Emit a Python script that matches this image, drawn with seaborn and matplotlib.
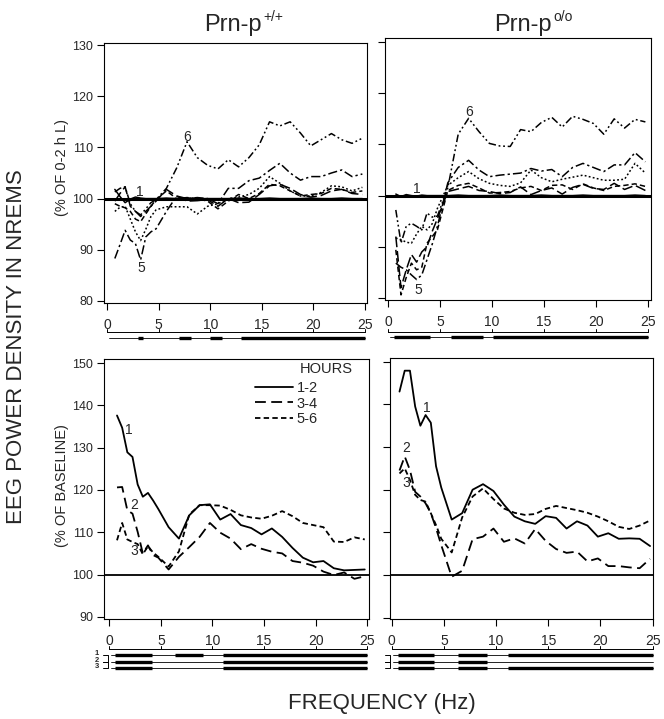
import numpy as np
import pandas as pd
import matplotlib
matplotlib.use('Agg')
import matplotlib.pyplot as plt
import seaborn as sns

# frequency bins (Hz), same for all panels
freq = [0.75, 1.25, 1.75, 2.25, 2.75, 3.25, 3.75, 4.25, 4.75,
        5.75, 6.75, 7.75, 8.75, 9.75, 10.75, 11.75, 12.75, 13.75, 14.75, 15.75,
        16.75, 17.75, 18.75, 19.75, 20.75, 21.75, 22.75, 23.75, 24.75]
freq_ticks = [0, 5, 10, 15, 20, 25]

# top row: hours 1..6 as % of the 0-2 h light value
wt_h1 = [101.8, 100.4, 99.2, 99.9, 100.3, 100.1, 100.0, 100.0, 100.0,
         100.1, 100.0, 100.1, 100.0, 100.0, 100.0, 100.0, 100.1, 100.0, 100.0, 100.1,
         100.0, 100.0, 100.0, 100.1, 100.0, 100.0, 100.1, 100.0, 100.0]
wt_h2 = [99.5, 101.0, 102.3, 98.5, 97.5, 96.5, 97.5, 98.5, 99.5,
         101.8, 100.5, 99.5, 99.6, 99.8, 98.5, 100.0, 99.2, 99.3, 100.8, 102.5,
         102.8, 102.0, 100.8, 100.3, 100.6, 101.5, 101.8, 101.0, 100.8]
wt_h3 = [99.0, 98.5, 98.2, 97.5, 96.0, 95.5, 97.0, 98.5, 99.8,
         101.5, 100.0, 100.2, 100.0, 99.5, 98.0, 99.5, 100.8, 100.0, 101.0, 102.8,
         102.5, 101.5, 100.5, 100.8, 101.0, 102.0, 101.8, 101.2, 101.5]
wt_h4 = [97.5, 98.3, 98.5, 96.0, 93.5, 91.8, 94.0, 96.5, 97.8,
         98.4, 98.4, 98.4, 97.0, 98.5, 99.0, 100.0, 100.3, 100.8, 102.0, 104.3,
         103.0, 101.5, 100.5, 100.5, 101.2, 102.5, 102.3, 101.5, 102.2]
wt_h5 = [88.3, 91.0, 93.8, 91.9, 91.2, 88.0, 92.5, 93.5, 94.1,
         97.5, 100.5, 100.0, 100.2, 100.0, 99.0, 102.0, 102.0, 103.5, 104.0, 105.5,
         106.9, 105.0, 103.6, 104.3, 104.3, 105.0, 105.6, 104.3, 104.8]
wt_h6 = [101.3, 102.0, 102.3, 99.0, 97.5, 96.8, 98.0, 99.2, 99.8,
         102.0, 106.0, 111.1, 108.0, 106.5, 105.8, 107.6, 106.2, 108.0, 110.5, 115.0,
         114.2, 115.0, 112.8, 110.3, 111.5, 112.7, 111.5, 110.8, 111.8]

ko_h1 = [100.3, 99.8, 100.2, 100.0, 99.9, 100.1, 100.0, 100.0, 100.0,
         100.0, 100.1, 100.0, 100.0, 100.0, 100.1, 100.0, 100.0, 100.0, 100.1, 100.0,
         100.0, 100.0, 100.1, 100.0, 100.0, 100.0, 100.0, 100.1, 100.0]
ko_h2 = [92.0, 82.0, 85.5, 88.5, 87.0, 89.0, 90.0, 93.0, 95.5,
         100.8, 101.3, 101.8, 101.0, 100.8, 100.4, 100.6, 101.7, 100.2, 101.0, 101.5,
         100.3, 101.6, 102.2, 101.4, 101.2, 102.4, 101.2, 102.0, 101.0]
ko_h3 = [89.4, 80.6, 84.0, 86.8, 85.5, 86.0, 90.7, 92.0, 93.3,
         101.0, 102.0, 102.4, 101.5, 100.5, 100.6, 100.8, 101.5, 101.8, 101.0, 102.0,
         102.1, 101.2, 102.3, 101.5, 101.0, 101.8, 102.0, 102.3, 101.8]
ko_h4 = [91.7, 91.4, 90.9, 90.7, 92.5, 94.0, 93.3, 94.5, 97.5,
         102.0, 103.5, 104.7, 103.3, 102.4, 102.0, 101.8, 102.5, 105.0, 103.5, 102.7,
         103.2, 103.6, 104.0, 103.5, 103.0, 103.0, 103.2, 106.3, 104.4]
ko_h5 = [86.8, 86.0, 85.5, 84.5, 83.6, 84.5, 87.5, 90.5, 94.0,
         102.5, 105.5, 106.9, 105.0, 103.7, 104.0, 104.2, 104.4, 105.3, 104.8, 105.1,
         103.7, 105.5, 106.3, 105.5, 104.7, 106.0, 106.0, 108.4, 106.6]
ko_h6 = [97.2, 90.7, 94.0, 94.6, 94.0, 93.3, 96.6, 95.8, 96.0,
         101.5, 112.0, 115.1, 112.5, 110.2, 109.7, 109.6, 112.9, 112.5, 114.3, 115.3,
         113.4, 115.5, 114.9, 114.1, 112.0, 115.0, 113.2, 114.9, 114.4]

# bottom row: 2-h intervals as % of baseline
hour_labels = ['1-2', '3-4', '5-6']
wt_12 = [137.6, 134.7, 128.9, 127.8, 121.3, 118.4, 119.3, 117.5, 115.5,
         111.2, 108.5, 114.0, 116.4, 116.6, 113.0, 114.3, 111.7, 111.0, 109.5, 110.9,
         108.9, 106.3, 104.0, 102.9, 103.2, 101.5, 101.0, 101.1, 101.2]
wt_34 = [120.6, 120.7, 115.2, 114.4, 110.1, 105.0, 106.9, 104.6, 104.0,
         101.2, 104.2, 106.5, 108.9, 112.2, 109.9, 108.5, 106.0, 107.2, 106.1, 105.4,
         105.0, 103.2, 102.8, 102.1, 100.7, 99.9, 100.5, 99.0, 99.6]
wt_56 = [108.1, 112.2, 108.3, 107.7, 107.2, 104.8, 106.7, 105.2, 104.2,
         101.9, 105.5, 114.2, 116.4, 116.4, 116.3, 115.3, 114.0, 113.5, 113.2, 113.9,
         115.0, 113.8, 112.2, 111.7, 111.2, 107.8, 107.7, 108.8, 108.3]
ko_12 = [143.0, 147.9, 147.9, 139.5, 135.0, 137.5, 135.7, 125.5, 120.5,
         113.0, 114.5, 120.0, 121.3, 119.7, 116.5, 113.7, 112.6, 112.0, 113.8, 113.4,
         110.9, 112.6, 111.6, 109.0, 109.8, 108.5, 108.6, 108.5, 106.8]
ko_34 = [124.5, 127.8, 124.6, 119.5, 118.4, 116.8, 114.5, 111.0, 107.0,
         99.6, 101.0, 108.4, 109.0, 110.9, 107.8, 108.6, 107.4, 110.8, 108.0, 106.1,
         105.2, 105.5, 103.2, 103.9, 102.1, 102.1, 101.8, 101.6, 103.8]
ko_56 = [123.8, 125.0, 122.3, 118.8, 117.6, 117.2, 114.5, 111.7, 108.5,
         105.3, 113.5, 118.4, 120.3, 117.8, 115.6, 114.6, 114.1, 114.3, 115.5, 116.2,
         115.7, 115.2, 114.6, 113.7, 112.6, 111.3, 110.8, 111.6, 112.8]

# significant frequency ranges (Hz) under each panel
wt_top_sig = [(3.0, 3.5), (7.0, 8.1), (10.0, 11.1), (13.0, 25.0)]
ko_top_sig = [(0.6, 4.0), (6.1, 9.1), (10.1, 25.0)]
wt_bot_sig_1 = [(0.55, 4.1), (6.4, 9.1), (11.0, 25.0)]
wt_bot_sig_2 = [(0.55, 4.1), (11.0, 25.0)]
wt_bot_sig_3 = [(0.55, 4.1), (11.0, 25.0)]
ko_bot_sig_1 = [(0.65, 4.1), (6.4, 9.1), (11.1, 25.0)]
ko_bot_sig_2 = [(0.65, 4.1), (6.4, 9.1)]
ko_bot_sig_3 = [(0.65, 4.1), (6.4, 9.1), (11.1, 25.0)]

sns.set_style('ticks')
plt.rcParams['font.family'] = ['Liberation Sans', 'DejaVu Sans']
plt.rcParams['mathtext.default'] = 'regular'

W, H = 664, 719
fig = plt.figure(figsize=(W / 100, H / 100), dpi=100)


def box(l, t, r, b):
    return [l / W, 1 - b / H, (r - l) / W, (b - t) / H]


ax_tl = fig.add_axes(box(104, 43, 367, 303))
ax_tr = fig.add_axes(box(385, 38, 651, 300))
ax_bl = fig.add_axes(box(104, 359, 369, 619))
ax_br = fig.add_axes(box(390, 358, 653, 619))

top_styles = ['solid', (0, (7, 2.5)), (0, (3.5, 2)), (0, (1.2, 1.5)),
              (0, (6, 2, 1.5, 2)), (0, (5, 1.8, 1.2, 1.8, 1.2, 1.8))]
bot_styles = ['solid', (0, (6, 3)), (0, (3, 1.8))]


def style_axes(ax, xlim, ylim, yticks, labels=True):
    ax.set_xlim(xlim)
    ax.set_ylim(ylim)
    ax.set_xticks(freq_ticks)
    ax.set_yticks(yticks)
    ax.tick_params(direction='out', length=5, width=0.8, color='black',
                   bottom=True, left=True, top=False, right=False)
    ax.tick_params(axis='y', labelsize=9, pad=3, labelleft=labels)
    ax.tick_params(axis='x', labelsize=10, pad=6)
    for s in ax.spines.values():
        s.set_visible(True)
        s.set_linewidth(0.8)
        s.set_color('black')
    ax.set_xlabel('')
    ax.set_ylabel('')


def draw_sig(ax, rows, ruler_px, row_px, start):
    hpx = ax.get_position().height * H
    tr = ax.get_xaxis_transform()
    y0 = -ruler_px / hpx
    ax.plot([0, 25], [y0, y0], color='black', lw=0.7, transform=tr, clip_on=False)
    for t in freq_ticks:
        ax.plot([t, t], [y0, y0 + 3 / hpx], color='black', lw=0.7, transform=tr, clip_on=False)
    for segs, rp in zip(rows, row_px):
        y = -rp / hpx
        ax.plot([start, 25], [y, y], color='black', lw=0.6, transform=tr, clip_on=False)
        for a, b in segs:
            ax.plot([a, b], [y, y], color='black', lw=2.4, solid_capstyle='butt',
                    transform=tr, clip_on=False)
    return tr, hpx


# top panels
for ax, series in [(ax_tl, [wt_h1, wt_h2, wt_h3, wt_h4, wt_h5, wt_h6]),
                   (ax_tr, [ko_h1, ko_h2, ko_h3, ko_h4, ko_h5, ko_h6])]:
    ax.axhline(100, color='black', lw=2.2)
    for vals, ls in zip(series, top_styles):
        sns.lineplot(x=freq, y=vals, ax=ax, color='black', linestyle=ls, lw=1.1, legend=False)

style_axes(ax_tl, (-0.3, 25.2), (79.6, 130.4), [80, 90, 100, 110, 120, 130])
style_axes(ax_tr, (-0.29, 25.29), (79.6, 130.8), [80, 90, 100, 110, 120, 130], labels=False)

ax_tl.text(3.2, 101.3, '1', fontsize=10, ha='center', va='center')
ax_tl.text(3.36, 86.4, '5', fontsize=10, ha='center', va='center')
ax_tl.text(7.72, 112.1, '6', fontsize=10, ha='center', va='center')
ax_tr.text(2.76, 101.3, '1', fontsize=10, ha='center', va='center')
ax_tr.text(2.9, 81.6, '5', fontsize=10, ha='center', va='center')
ax_tr.text(7.8, 116.4, '6', fontsize=10, ha='center', va='center')

draw_sig(ax_tl, [wt_top_sig], 29, [35], 0.2)
draw_sig(ax_tr, [ko_top_sig], 32, [37], 0.2)

# bottom panels
for ax, series in [(ax_bl, [wt_12, wt_34, wt_56]), (ax_br, [ko_12, ko_34, ko_56])]:
    ax.axhline(100, color='black', lw=1.3)
    for vals, ls, lab in zip(series, bot_styles, hour_labels):
        sns.lineplot(x=freq, y=vals, ax=ax, color='black', linestyle=ls, lw=1.3,
                     label=lab, legend=False)

style_axes(ax_bl, (-0.51, 25.16), (89.5, 150.95), [90, 100, 110, 120, 130, 140, 150])
style_axes(ax_br, (-0.16, 25.03), (89.7, 150.87), [90, 100, 110, 120, 130, 140, 150], labels=False)

leg = ax_bl.legend(loc='upper left', bbox_to_anchor=(0.57, 0.916), frameon=False,
                   borderpad=0, borderaxespad=0, handlelength=2.6, handletextpad=0.25,
                   labelspacing=0.12, fontsize=10.5)
if ax_br.get_legend() is not None:
    ax_br.get_legend().remove()
ax_bl.text(0.74, 0.962, 'HOURS', transform=ax_bl.transAxes, fontsize=10.5,
           ha='left', va='center')

ax_bl.text(1.9, 134.2, '1', fontsize=10, ha='center', va='center')
ax_bl.text(2.4, 116.5, '2', fontsize=10, ha='center', va='center')
ax_bl.text(2.4, 105.6, '3', fontsize=10, ha='center', va='center')
ax_br.text(3.35, 139.1, '1', fontsize=10, ha='center', va='center')
ax_br.text(1.37, 129.7, '2', fontsize=10, ha='center', va='center')
ax_br.text(1.43, 121.6, '3', fontsize=10, ha='center', va='center')

row_px = [36, 43, 49]
tr, hpx = draw_sig(ax_bl, [wt_bot_sig_1, wt_bot_sig_2, wt_bot_sig_3], 30, row_px, 0.15)
for lab, rp in zip(['1', '2', '3'], row_px):
    ax_bl.text(-1.2, -(rp - 1.5) / hpx, lab, transform=tr, fontsize=5.5, fontweight='bold',
               ha='center', va='center')
for (ra, rb), xv in [((36, 43), -0.15), ((43, 49), -0.15)]:
    ax_bl.plot([-0.6, xv, xv, -0.6], [-ra / hpx, -ra / hpx, -rb / hpx, -rb / hpx],
               color='black', lw=0.7, transform=tr, clip_on=False)

tr, hpx = draw_sig(ax_br, [ko_bot_sig_1, ko_bot_sig_2, ko_bot_sig_3], 30, row_px, 0.15)
for (ra, rb) in [(36, 43), (43, 49)]:
    ax_br.plot([-0.65, -0.2, -0.2, -0.65], [-ra / hpx, -ra / hpx, -rb / hpx, -rb / hpx],
               color='black', lw=0.7, transform=tr, clip_on=False)

# figure texts
fig.text(262 / W, 1 - 31 / H, 'Prn-p', fontsize=17, ha='right', va='baseline')
fig.text(263 / W, 1 - 21 / H, '+/+', fontsize=10, ha='left', va='baseline')
fig.text(552 / W, 1 - 31 / H, 'Prn-p', fontsize=17, ha='right', va='baseline')
fig.text(553 / W, 1 - 21 / H, 'o/o', fontsize=10, ha='left', va='baseline')
fig.text(62 / W, 1 - 167 / H, '(% OF 0-2 h L)', fontsize=10.5, rotation=90,
         ha='center', va='center')
fig.text(62 / W, 1 - 486 / H, '(% OF BASELINE)', fontsize=10.5, rotation=90,
         ha='center', va='center')
fig.text(17 / W, 1 - 347 / H, 'EEG POWER DENSITY IN NREMS', fontsize=16, rotation=90,
         ha='center', va='center')
fig.text(382 / W, 1 - 704 / H, 'FREQUENCY (Hz)', fontsize=16, ha='center', va='center')

fig.savefig('out.png', dpi=100)
